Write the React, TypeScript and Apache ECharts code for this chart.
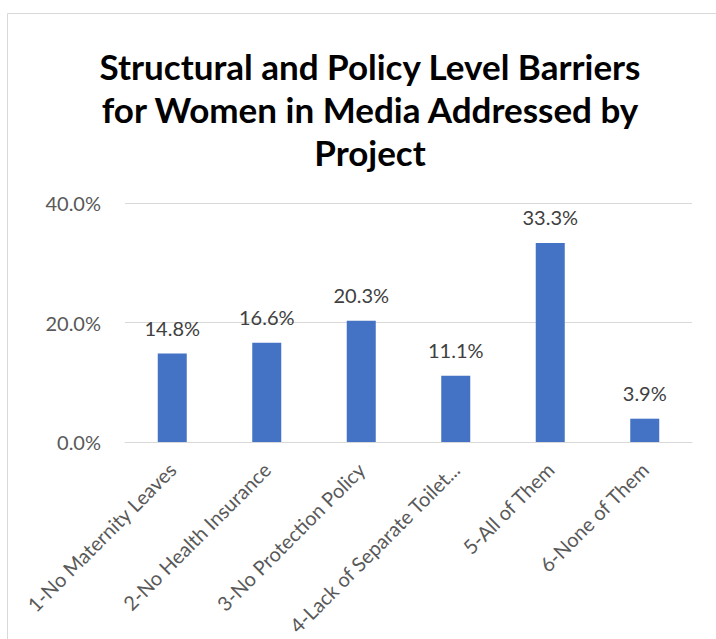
import React, { useEffect, useRef } from "react";
import * as echarts from "echarts";

const categories = [
  "1-No Maternity Leaves",
  "2-No Health Insurance",
  "3-No Protection Policy",
  "4-Lack of Separate Toilet...",
  "5-All of Them",
  "6-None of Them",
];
const values = [14.8, 16.6, 20.3, 11.1, 33.3, 3.9];
const yTicks = { min: 0, max: 40, interval: 20 };
const titleText = "Structural and Policy Level Barriers\nfor Women in Media Addressed by\nProject";

export default function App() {
  const ref = useRef<HTMLDivElement>(null);
  useEffect(() => {
    if (!ref.current) return;
    const chart = echarts.init(ref.current, null, { renderer: "svg" });
    chart.setOption({
      animation: false,
      backgroundColor: "#ffffff",
      graphic: [
        {
          type: "rect",
          shape: { x: 7.5, y: 13.5, width: 720, height: 640 },
          style: { fill: "none", stroke: "#d9d9d9", lineWidth: 1 },
          silent: true,
        },
      ],
      title: {
        text: titleText,
        left: 370,
        top: 44,
        padding: 0,
        textAlign: "center",
        textStyle: {
          fontFamily: "Lato",
          fontWeight: "bold",
          fontSize: 35,
          lineHeight: 43,
          color: "#000000",
        },
      },
      grid: { left: 125, right: 24, top: 203, bottom: 197, containLabel: false },
      xAxis: {
        type: "category",
        data: categories,
        axisLine: { lineStyle: { color: "#d9d9d9", width: 1 } },
        axisTick: { show: false },
        axisLabel: {
          interval: 0,
          rotate: 45,
          margin: 24,
          color: "#595959",
          fontFamily: "Lato",
          fontSize: 20,
        },
      },
      yAxis: {
        type: "value",
        min: yTicks.min,
        max: yTicks.max,
        interval: yTicks.interval,
        axisLine: { show: false },
        axisTick: { show: false },
        splitLine: { lineStyle: { color: "#d9d9d9", width: 1 } },
        axisLabel: {
          margin: 24,
          color: "#595959",
          fontFamily: "Lato",
          fontSize: 20,
          formatter: (v: number) => v.toFixed(1) + "%",
        },
      },
      series: [
        {
          type: "bar",
          data: values,
          barWidth: 29,
          itemStyle: { color: "#4472c4" },
          label: {
            show: true,
            position: "top",
            distance: 16,
            color: "#404040",
            fontFamily: "Lato",
            fontSize: 20,
            formatter: (p: any) => p.value.toFixed(1) + "%",
          },
        },
      ],
    });
    return () => chart.dispose();
  }, []);
  return <div ref={ref} style={{ width: 716, height: 639, position: "absolute", left: 0, top: 0 }} />;
}
